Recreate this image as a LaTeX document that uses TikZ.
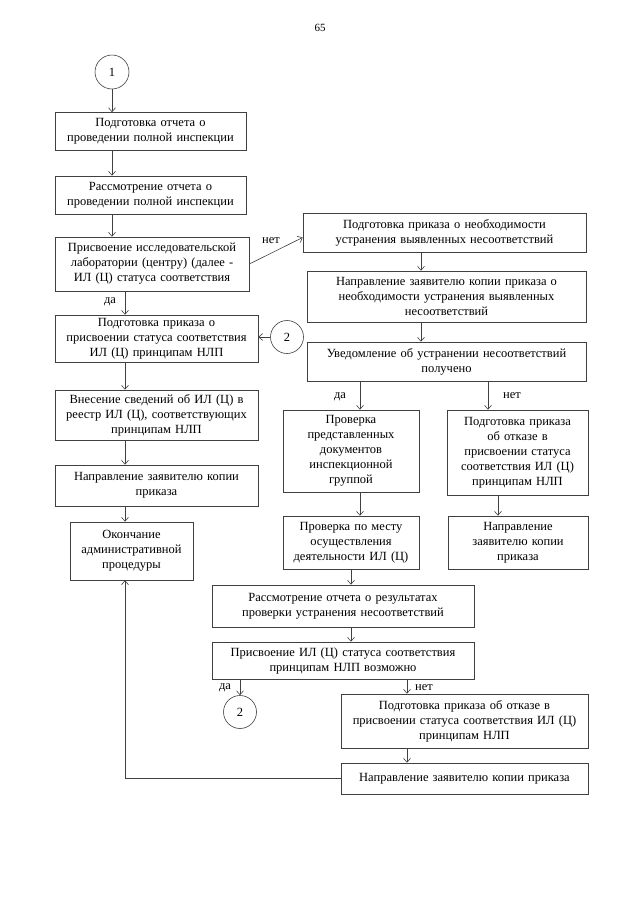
\documentclass[tikz,border=0pt]{standalone}
\usepackage{fontspec}
\setmainfont{Liberation Serif}
\usetikzlibrary{arrows.meta}

\begin{document}
\begin{tikzpicture}[x=1pt, y=-1pt, every path/.style={line width=0.6pt, black!75}, every node/.style={draw, inner xsep=3pt, inner ysep=1pt, align=center, text=black, font=\fontsize{12.5}{15}\selectfont}]
\useasboundingbox (0,0) rectangle (640,905);
\node[draw=none, font=\fontsize{11}{13}\selectfont] (pg) at (320,28) {65};

% columns of the arrows
\coordinate (lx) at (125,0);
\coordinate (rx) at (421,0);
\coordinate (kx) at (360,0);
\coordinate (lfx) at (488,0);
\coordinate (nx) at (498,0);
\coordinate (mx) at (351,0);
\coordinate (qx) at (407,0);

\node[circle, minimum size=34pt, inner sep=0pt] (c1) at (112,72) {1};
\node[text width=185pt, minimum height=38pt] (b1) at (150.5,131.5) {Подготовка отчета о\\проведении полной инспекции};
\node[text width=185pt, minimum height=38pt] (b2) at (150.5,195) {Рассмотрение отчета о\\проведении полной инспекции};
\node[text width=188pt, minimum height=54pt] (b3) at (152,264) {Присвоение исследовательской лаборатории (центру) (далее - ИЛ (Ц) статуса соответствия};
\node[text width=277pt, minimum height=39pt] (b4) at (444.5,232.5) {Подготовка приказа о необходимости\\устранения выявленных несоответствий};
\node[text width=273pt, minimum height=51pt] (b5) at (446.5,296.5) {Направление заявителю копии приказа о\\необходимости устранения выявленных\\несоответствий};
\node[text width=273pt, minimum height=39pt] (b6) at (446.5,361.5) {Уведомление об устранении несоответствий\\получено};
\node[text width=197pt, minimum height=47pt] (b7) at (156.5,338.5) {Подготовка приказа о\\присвоении статуса соответствия\\ИЛ (Ц) принципам НЛП};
\node[circle, minimum size=33pt, inner sep=0pt] (c2) at (287,337) {2};
\node[text width=197pt, minimum height=50pt] (b8) at (156.5,415) {Внесение сведений об ИЛ (Ц) в\\реестр ИЛ (Ц), соответствующих\\принципам НЛП};
\node[text width=197pt, minimum height=41pt] (b9) at (156.5,485.5) {Направление заявителю копии\\приказа};
\node[text width=117pt, minimum height=58pt] (b10) at (131.5,551) {Окончание\\административной\\процедуры};
\node[text width=130pt, minimum height=82pt] (b11) at (351,451) {Проверка\\представленных\\документов\\инспекционной\\группой};
\node[text width=135pt, minimum height=85pt] (b12) at (517.5,452.5) {Подготовка приказа\\об отказе в\\присвоении статуса\\соответствия ИЛ (Ц)\\принципам НЛП};
\node[text width=130pt, minimum height=53pt] (b13) at (351,542.5) {Проверка по месту\\осуществления\\деятельности ИЛ (Ц)};
\node[text width=134pt, minimum height=53pt] (b14) at (518,542.5) {Направление\\заявителю копии\\приказа};
\node[text width=256pt, minimum height=42pt] (b15) at (343,606) {Рассмотрение отчета о результатах\\проверки устранения несоответствий};
\node[text width=256pt, minimum height=37pt] (b16) at (343,660.5) {Присвоение ИЛ (Ц) статуса соответствия\\принципам НЛП возможно};
\node[circle, minimum size=33pt, inner sep=0pt] (c3) at (240,712) {2};
\node[text width=241pt, minimum height=54pt] (b17) at (464.5,721) {Подготовка приказа об отказе в\\присвоении статуса соответствия ИЛ (Ц)\\принципам НЛП};
\node[text width=241pt, minimum height=31pt] (b18) at (464.5,778.5) {Направление заявителю копии приказа};

\node[draw=none] (l1) at (271,241) {нет};
\node[draw=none] (l2) at (110,302) {да};
\node[draw=none] (l3) at (340,397) {да};
\node[draw=none] (l4) at (512,396) {нет};
\node[draw=none] (l5) at (225,688) {да};
\node[draw=none] (l6) at (424,688) {нет};

\draw[-{Straight Barb[length=4pt,width=7pt]}] (c1) -- (c1 |- b1.north);
\draw[-{Straight Barb[length=4pt,width=7pt]}] (b1.south -| c1) -- (b2.north -| c1);
\draw[-{Straight Barb[length=4pt,width=7pt]}] (b2.south -| c1) -- (b3.north -| c1);
\draw[-{Straight Barb[length=4pt,width=7pt]}] (b3.east) -- ([yshift=-5pt]b4.west);
\draw[-{Straight Barb[length=4pt,width=7pt]}] (b4.south -| rx) -- (b5.north -| rx);
\draw[-{Straight Barb[length=4pt,width=7pt]}] (b5.south -| rx) -- (b6.north -| rx);
\draw[-{Straight Barb[length=4pt,width=7pt]}] (b3.south -| lx) -- (b7.north -| lx);
\draw[-{Straight Barb[length=4pt,width=7pt]}] (c2) -- (c2 -| b7.east);
\draw[-{Straight Barb[length=4pt,width=7pt]}] (b7.south -| lx) -- (b8.north -| lx);
\draw[-{Straight Barb[length=4pt,width=7pt]}] (b8.south -| lx) -- (b9.north -| lx);
\draw[-{Straight Barb[length=4pt,width=7pt]}] (b9.south -| lx) -- (b10.north -| lx);
\draw[-{Straight Barb[length=4pt,width=7pt]}] (b6.south -| kx) -- (b11.north -| kx);
\draw[-{Straight Barb[length=4pt,width=7pt]}] (b6.south -| lfx) -- (b12.north -| lfx);
\draw[-{Straight Barb[length=4pt,width=7pt]}] (b11.south -| kx) -- (b13.north -| kx);
\draw[-{Straight Barb[length=4pt,width=7pt]}] (b12.south -| nx) -- (b14.north -| nx);
\draw[-{Straight Barb[length=4pt,width=7pt]}] (b13.south -| mx) -- (b15.north -| mx);
\draw[-{Straight Barb[length=4pt,width=7pt]}] (b15.south -| mx) -- (b16.north -| mx);
\draw[-{Straight Barb[length=4pt,width=7pt]}] (b16.south -| c3) -- (c3);
\draw[-{Straight Barb[length=4pt,width=7pt]}] (b16.south -| qx) -- (b17.north -| qx);
\draw[-{Straight Barb[length=4pt,width=7pt]}] (b17.south -| qx) -- (b18.north -| qx);
\draw[-{Straight Barb[length=4pt,width=7pt]}] (b18.west) -- (b18.west -| lx) -- (b10.south -| lx);
\end{tikzpicture}
\end{document}
